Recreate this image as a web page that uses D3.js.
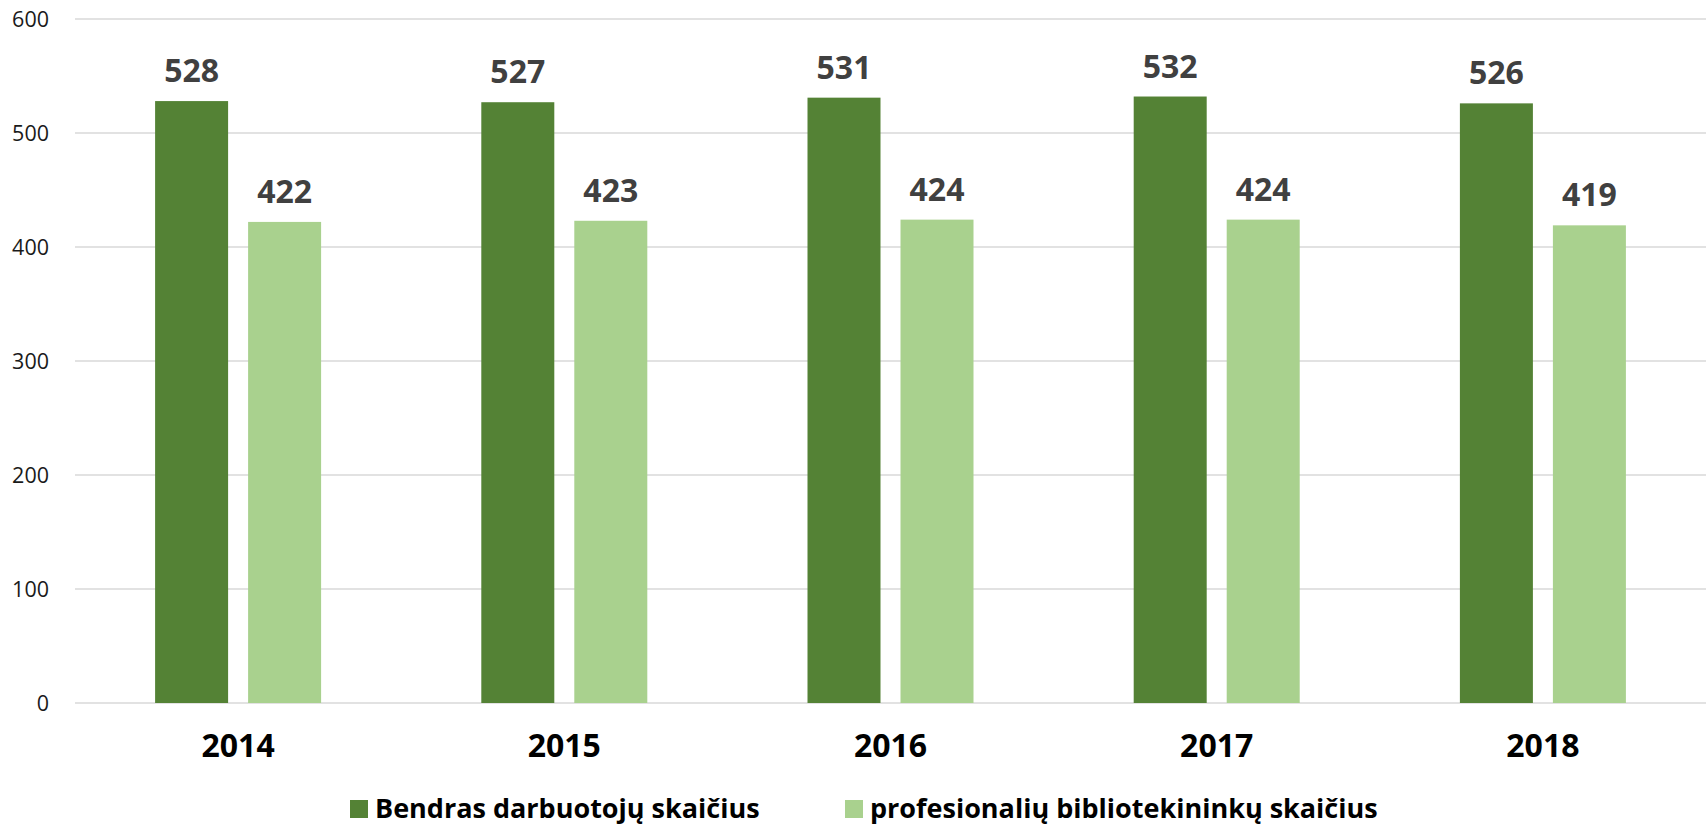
<!DOCTYPE html>
<html><head><meta charset="utf-8">
<script src="https://cdn.jsdelivr.net/npm/d3@7"></script>
<style>
html,body{margin:0;padding:0;background:#fff;}
svg{display:block;font-family:"Open Sans",sans-serif;}
</style></head>
<body>
<svg id="chart" width="1706" height="825"></svg>
<script>
const years = ["2014","2015","2016","2017","2018"];
const seriesNames = ["Bendras darbuotojų skaičius","profesionalių bibliotekininkų skaičius"];
const totalStaff = [528,527,531,532,526];
const professionals = [422,423,424,424,419];
const yTicks = [0,100,200,300,400,500,600];
const colors = ["#548235","#A9D18E"];

(function(){
const svg = d3.select("#chart");
const plotLeft = 75, plotRight = 1706, plotTop = 19, plotBottom = 703;

const x = d3.scaleBand().domain(years).range([plotLeft,plotRight]).paddingInner(0).paddingOuter(0);
const y = d3.scaleLinear().domain([0,600]).range([plotBottom,plotTop]);
const barW = 73, gap = 20;
const xs = d3.scaleBand().domain([0,1]).range([0,barW*2+gap]).paddingInner(gap/(barW+gap)).paddingOuter(0);

// gridlines
svg.append("g").selectAll("line").data(yTicks).join("line")
  .attr("x1",plotLeft).attr("x2",plotRight)
  .attr("y1",d=>y(d)).attr("y2",d=>y(d))
  .attr("stroke","#d9d9d9").attr("stroke-width",1.3);

// y-axis labels
svg.append("g").selectAll("text").data(yTicks).join("text")
  .attr("x",49).attr("y",d=>y(d)).attr("dy","0.36em")
  .attr("text-anchor","end").attr("font-size",21.5).attr("fill","#1a1a1a")
  .text(d=>d);

const series = [totalStaff, professionals];
const groupOffset = (x.bandwidth() - (barW*2+gap))/2;

series.forEach((vals,si)=>{
  const g = svg.append("g");
  g.selectAll("rect").data(vals).join("rect")
    .attr("x",(d,i)=>x(years[i])+groupOffset+xs(si))
    .attr("width",xs.bandwidth())
    .attr("y",d=>y(d))
    .attr("height",d=>y(0)-y(d))
    .attr("fill",colors[si]);
  g.selectAll("text").data(vals).join("text")
    .attr("x",(d,i)=>x(years[i])+groupOffset+xs(si)+xs.bandwidth()/2)
    .attr("y",d=>y(d)-19)
    .attr("text-anchor","middle").attr("font-size",32).attr("font-weight","bold")
    .attr("fill","#404040")
    .text(d=>d);
});

// x-axis labels
svg.append("g").selectAll("text").data(years).join("text")
  .attr("x",d=>x(d)+x.bandwidth()/2).attr("y",757)
  .attr("text-anchor","middle").attr("font-size",32).attr("font-weight","bold")
  .attr("fill","#000")
  .text(d=>d);

// legend
const legendX = [350,845];
const lg = svg.append("g");
seriesNames.forEach((name,i)=>{
  lg.append("rect").attr("x",legendX[i]).attr("y",800).attr("width",18).attr("height",18).attr("fill",colors[i]);
  lg.append("text").attr("x",legendX[i]+25).attr("y",818)
    .attr("font-size",27).attr("font-weight","bold").attr("fill","#000")
    .text(name);
});
})();
</script>
</body></html>
